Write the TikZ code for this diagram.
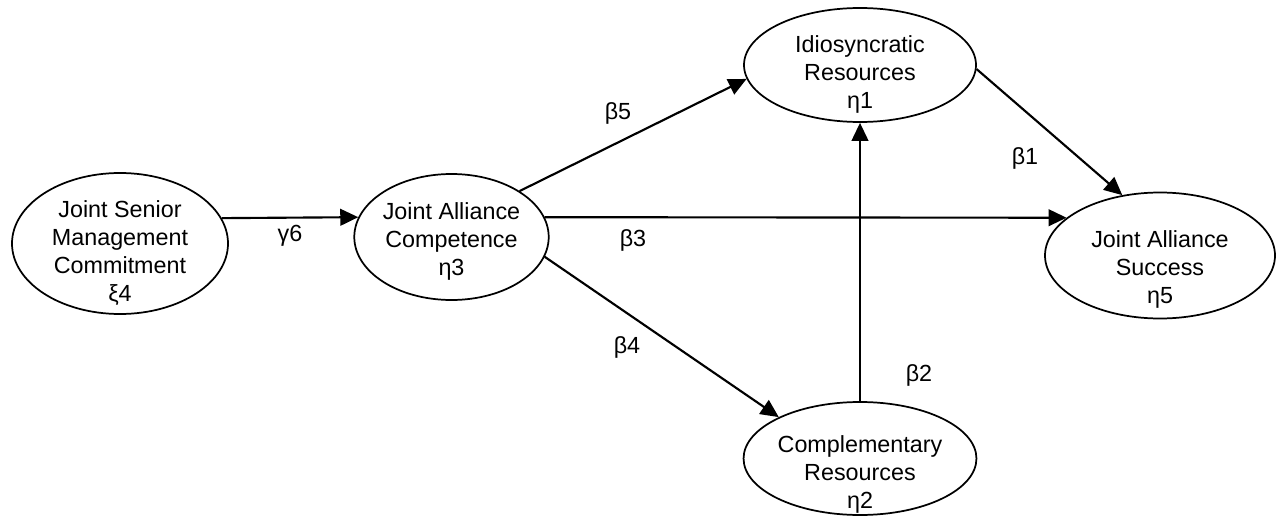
\documentclass[tikz,border=0pt]{standalone}
\usepackage{fontspec}
\setmainfont{Liberation Sans}
\usetikzlibrary{arrows.meta,shapes.geometric}

\begin{document}
\begin{tikzpicture}[x=0.75pt,y=-0.75pt,>={Triangle[length=13.5pt,width=12.5pt]}, every node/.style={font=\fontsize{17.5}{21}\selectfont}]
    \tikzset{latent/.style={draw,ellipse,line width=1.3pt,inner sep=0pt,align=center}}
    \tikzset{tshift/.style={text height=#1,text depth=0pt,inner ysep=-0.5*#1}}
    \tikzset{causal/.style={->,line width=1.6pt}}
    \tikzset{coef/.style={inner sep=1pt}}

    \useasboundingbox (0,0) rectangle (1282,517);

    % Latent variables
    \node[latent,minimum width=162pt,minimum height=105.75pt,tshift=87.6pt] (jsmc) at (120,243.5) {Joint Senior\\Management\\Commitment\\ξ4};
    \node[latent,minimum width=140.25pt,minimum height=94.5pt,tshift=57.6pt] (jac) at (451.5,237) {Joint Alliance\\Competence\\η3};
    \node[latent,minimum width=174pt,minimum height=85.5pt,tshift=64.6pt] (idr) at (860,65) {Idiosyncratic\\Resources\\η1};
    \node[latent,minimum width=172.5pt,minimum height=84.75pt,tshift=74.6pt] (cr) at (860,458.5) {Complementary\\Resources\\η2};
    \node[latent,minimum width=172.5pt,minimum height=94.5pt,tshift=72.6pt] (jas) at (1160,255.5) {Joint Alliance\\Success\\η5};

    % Paths
    \draw[causal] (jsmc.14) -- (jac.168);
    \draw[causal] (jac.34) -- (idr.187);
    \draw[causal] (jac.12) -- (jas.158);
    \draw[causal] (jac.348) -- (cr.153);
    \draw[causal] (cr.north) -- (idr.south);
    \draw[causal] (idr.358) -- (jas.122);

    % Coefficients
    \node[coef] (g6) at (290,236) {γ6};
    \node[coef] (b5) at (618,113) {β5};
    \node[coef] (b3) at (633,240) {β3};
    \node[coef] (b4) at (627,347) {β4};
    \node[coef] (b2) at (919,375) {β2};
    \node[coef] (b1) at (1025,158) {β1};
\end{tikzpicture}
\end{document}
